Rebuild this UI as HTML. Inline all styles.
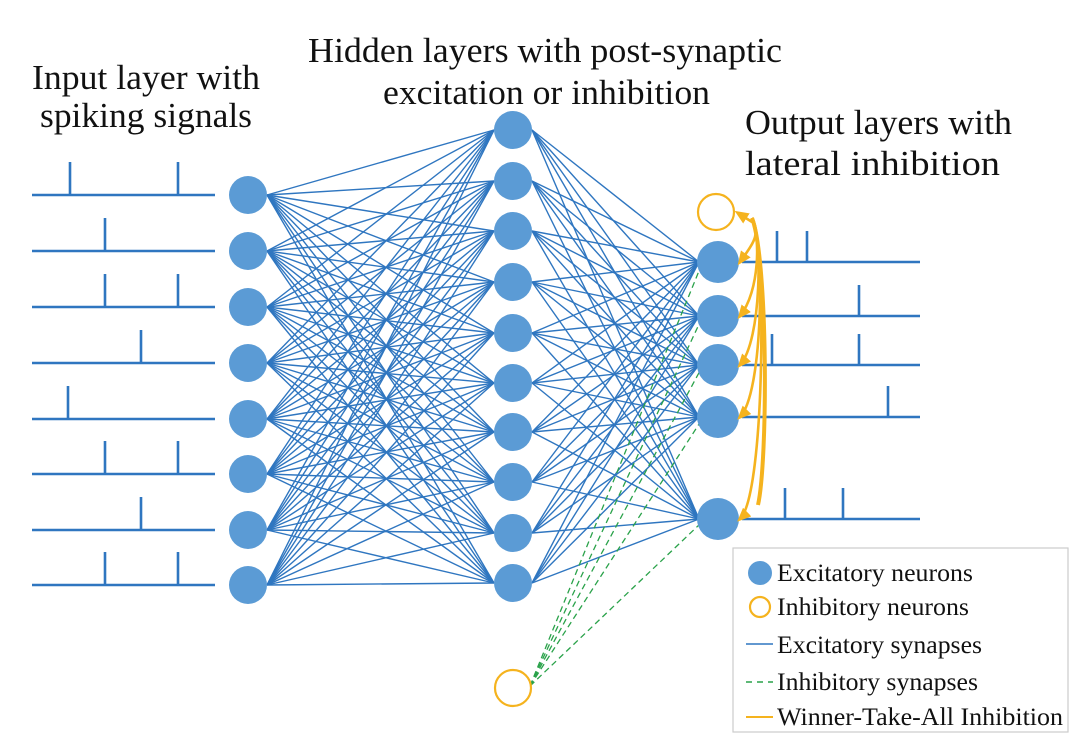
<!DOCTYPE html>
<html><head><meta charset="utf-8"><style>
html,body{margin:0;padding:0;background:#fff;}
svg{display:block;}
text{font-family:"Liberation Serif",serif;fill:#111;}
</style></head><body>
<svg id="s" width="1080" height="750" viewBox="0 0 1080 750" xmlns="http://www.w3.org/2000/svg">
<defs>
<marker id="ah" markerWidth="14" markerHeight="12" refX="10" refY="6" orient="auto" markerUnits="userSpaceOnUse"><path d="M0,0 L14,6 L0,12 Z" fill="#f5b31e"/></marker>
</defs>
<g id="lines" stroke="#2f76c0" stroke-width="1.4" fill="none"></g>
<g id="dash" stroke="#2aa24a" stroke-width="1.3" stroke-dasharray="6,4" fill="none"></g>
<g id="spk" stroke="#2f76c0" stroke-width="2.6" fill="none"></g>
<g id="nodes"></g>
<g id="wta" stroke="#f5b31e" stroke-width="2.6" fill="none"></g>
<text x="32" y="89" font-size="35" textLength="228" lengthAdjust="spacingAndGlyphs">Input layer with</text>
<text x="40" y="127" font-size="35" textLength="212" lengthAdjust="spacingAndGlyphs">spiking signals</text>
<text x="308" y="62" font-size="35" textLength="474" lengthAdjust="spacingAndGlyphs">Hidden layers with post-synaptic</text>
<text x="383" y="104" font-size="35" textLength="327" lengthAdjust="spacingAndGlyphs">excitation or inhibition</text>
<text x="745" y="134" font-size="35" textLength="267" lengthAdjust="spacingAndGlyphs">Output layers with</text>
<text x="745" y="175" font-size="35" textLength="255" lengthAdjust="spacingAndGlyphs">lateral inhibition</text>
<rect x="733" y="548" width="335" height="184" fill="#fff" stroke="#ccc" stroke-width="1.2"/>
<circle cx="760" cy="573" r="12" fill="#5b9bd5"/>
<circle cx="760" cy="607" r="10" fill="none" stroke="#f5b31e" stroke-width="2.2"/>
<line x1="746" y1="644" x2="773" y2="644" stroke="#2f76c0" stroke-width="1.5"/>
<line x1="746" y1="682" x2="773" y2="682" stroke="#2aa24a" stroke-width="1.5" stroke-dasharray="6,5"/>
<line x1="746" y1="717" x2="773" y2="717" stroke="#f5b31e" stroke-width="2"/>
<g font-size="25">
<text x="777" y="581" textLength="196" lengthAdjust="spacingAndGlyphs">Excitatory neurons</text>
<text x="777" y="615" textLength="192" lengthAdjust="spacingAndGlyphs">Inhibitory neurons</text>
<text x="777" y="653" textLength="205" lengthAdjust="spacingAndGlyphs">Excitatory synapses</text>
<text x="777" y="690" textLength="201" lengthAdjust="spacingAndGlyphs">Inhibitory synapses</text>
<text x="777" y="725" textLength="286" lengthAdjust="spacingAndGlyphs">Winner-Take-All Inhibition</text>
</g>
</svg>
<script>
var NS="http://www.w3.org/2000/svg";
function el(p,t,a){var e=document.createElementNS(NS,t);for(var k in a)e.setAttribute(k,a[k]);document.getElementById(p).appendChild(e);return e;}
var inY=[195,251,307,363,419,474,530,585], hY=[130,181,231,282,333,383,432,482,533,583], oY=[262,316,365,417,519];
var r=19;
inY.forEach(function(a){hY.forEach(function(b){el("lines","line",{x1:248+r,y1:a,x2:513-r,y2:b});});});
hY.forEach(function(a){oY.forEach(function(b){el("lines","line",{x1:513+r,y1:a,x2:718-r,y2:b});});});
oY.forEach(function(b){el("dash","line",{x1:530,y1:686,x2:701,y2:b+4});});
var sp=[[70,178],[105],[105,178],[141],[68],[105,178],[141],[105,178]];
inY.forEach(function(y,i){el("spk","line",{x1:32,y1:y,x2:215,y2:y});sp[i].forEach(function(x){el("spk","line",{x1:x,y1:y,x2:x,y2:y-33});});});
var osp=[[777,807],[859],[772,859],[888],[785,843]];
oY.forEach(function(y,i){el("spk","line",{x1:742,y1:y,x2:920,y2:y});osp[i].forEach(function(x){el("spk","line",{x1:x,y1:y,x2:x,y2:y-31});});});
inY.forEach(function(y){el("nodes","circle",{cx:248,cy:y,r:r,fill:"#5b9bd5"});});
hY.forEach(function(y){el("nodes","circle",{cx:513,cy:y,r:r,fill:"#5b9bd5"});});
oY.forEach(function(y){el("nodes","circle",{cx:718,cy:y,r:21,fill:"#5b9bd5"});});
el("nodes","circle",{cx:513,cy:688,r:18,fill:"#fff",stroke:"#f5b31e","stroke-width":2.2});
el("nodes","circle",{cx:716,cy:212,r:18,fill:"#fff",stroke:"#f5b31e","stroke-width":2.2});
el("wta","path",{d:"M752,218 C768,260 768,460 758,505","stroke-width":4});
oY.forEach(function(y){
 var bx=756+Math.min(10,(y-212)/25);
 el("wta","path",{d:"M752,218 C"+bx+",235 "+bx+","+(y-25)+" 740,"+y,"marker-end":"url(#ah)"});
});
el("wta","path",{d:"M752,222 L738,213","marker-end":"url(#ah)"});
</script>
</body></html>
